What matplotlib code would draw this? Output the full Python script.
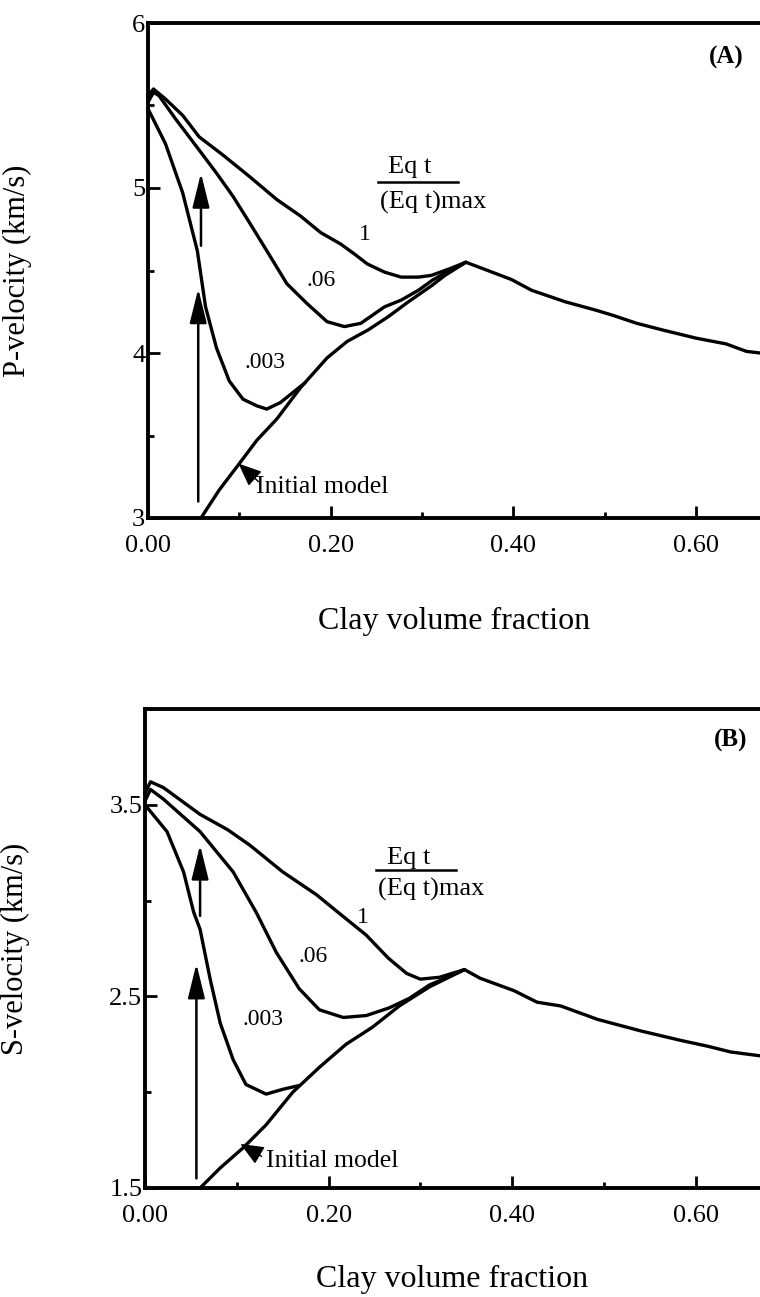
import matplotlib
matplotlib.use("Agg")
import matplotlib.pyplot as plt
from matplotlib.ticker import FormatStrFormatter, FixedLocator

plt.rcParams['font.family'] = ['Liberation Serif', 'DejaVu Serif']

# ---------------- (A) P-velocity ----------------
p_init_x = [0.058, 0.078, 0.100, 0.119, 0.141, 0.167, 0.196, 0.218, 0.241, 0.263,
            0.285, 0.311, 0.325, 0.348, 0.372, 0.398, 0.420, 0.457, 0.490, 0.508,
            0.535, 0.563, 0.600, 0.633, 0.655, 0.670]
p_init_y = [3.00, 3.17, 3.33, 3.47, 3.60, 3.79, 3.97, 4.07, 4.14, 4.22,
            4.31, 4.41, 4.47, 4.55, 4.50, 4.445, 4.38, 4.31, 4.26, 4.23,
            4.18, 4.14, 4.09, 4.055, 4.01, 4.00]

p_003_x = [0.000, 0.019, 0.038, 0.054, 0.063, 0.075, 0.089, 0.104, 0.119, 0.130,
           0.145, 0.163, 0.172]
p_003_y = [5.48, 5.27, 4.97, 4.62, 4.28, 4.03, 3.83, 3.72, 3.68, 3.66,
           3.70, 3.78, 3.82]

p_06_x = [0.000, 0.006, 0.012, 0.030, 0.056, 0.075, 0.093, 0.110, 0.130, 0.152,
          0.174, 0.196, 0.215, 0.233, 0.259, 0.277, 0.296, 0.311, 0.330, 0.348]
p_06_y = [5.52, 5.58, 5.56, 5.42, 5.23, 5.09, 4.95, 4.80, 4.62, 4.42,
          4.30, 4.19, 4.16, 4.18, 4.28, 4.32, 4.38, 4.44, 4.50, 4.55]

p_1_x = [0.000, 0.006, 0.019, 0.038, 0.056, 0.082, 0.111, 0.141, 0.167, 0.189,
         0.211, 0.226, 0.240, 0.259, 0.277, 0.296, 0.310, 0.330, 0.348]
p_1_y = [5.56, 5.60, 5.54, 5.44, 5.31, 5.20, 5.07, 4.93, 4.83, 4.73,
         4.66, 4.60, 4.54, 4.49, 4.46, 4.46, 4.47, 4.51, 4.55]

p_arrow_x = [0.058, 0.055]
p_arrow_y0 = [4.65, 3.10]
p_arrow_y1 = [5.09, 4.39]

# ---------------- (B) S-velocity ----------------
s_init_x = [0.060, 0.082, 0.107, 0.132, 0.161, 0.190, 0.219, 0.248, 0.277, 0.310,
            0.348, 0.365, 0.402, 0.427, 0.453, 0.493, 0.540, 0.584, 0.613, 0.638,
            0.670]
s_init_y = [1.50, 1.605, 1.71, 1.83, 2.00, 2.13, 2.25, 2.34, 2.45, 2.55,
            2.64, 2.595, 2.53, 2.47, 2.45, 2.38, 2.32, 2.27, 2.24, 2.21,
            2.19]

s_003_x = [0.000, 0.024, 0.042, 0.053, 0.060, 0.071, 0.082, 0.096, 0.110, 0.132,
           0.150, 0.168]
s_003_y = [3.50, 3.36, 3.15, 2.94, 2.85, 2.59, 2.36, 2.17, 2.04, 1.99,
           2.015, 2.035]

s_06_x = [0.000, 0.006, 0.020, 0.060, 0.096, 0.121, 0.143, 0.168, 0.190, 0.216,
          0.241, 0.266, 0.288, 0.310, 0.330, 0.348]
s_06_y = [3.52, 3.58, 3.53, 3.36, 3.15, 2.94, 2.73, 2.54, 2.43, 2.39,
          2.40, 2.44, 2.49, 2.56, 2.60, 2.64]

s_1_x = [0.000, 0.006, 0.020, 0.060, 0.090, 0.114, 0.150, 0.187, 0.210, 0.241,
         0.265, 0.285, 0.300, 0.321, 0.348]
s_1_y = [3.56, 3.62, 3.59, 3.45, 3.37, 3.29, 3.15, 3.03, 2.94, 2.82,
         2.70, 2.62, 2.59, 2.60, 2.64]

s_arrow_x = [0.060, 0.056]
s_arrow_y0 = [2.92, 1.55]
s_arrow_y1 = [3.29, 2.67]

curve_labels = ['1', '.06', '.003']
p_label_xy = [(0.237, 4.72), (0.189, 4.44), (0.128, 3.94)]
s_label_xy = [(0.237, 2.91), (0.183, 2.71), (0.129, 2.38)]

x_ticks = [0.0, 0.2, 0.4, 0.6]
x_minor = [0.1, 0.3, 0.5]

LW = 2.4
SPINE_W = 2.8


def style_axes(ax, ylim, yticks, yminor, ylabel, ylabel_x, xlabel_y):
    """Box style of the scanned figure: thick spines, inward ticks."""
    ax.set_xlim(0, 0.67)
    ax.set_ylim(*ylim)
    ax.spines['right'].set_visible(False)
    for s in ['left', 'top', 'bottom']:
        ax.spines[s].set_linewidth(SPINE_W)
    ax.xaxis.set_major_locator(FixedLocator(x_ticks))
    ax.xaxis.set_minor_locator(FixedLocator(x_minor))
    ax.xaxis.set_major_formatter(FormatStrFormatter('%.2f'))
    ax.yaxis.set_major_locator(FixedLocator(yticks))
    ax.yaxis.set_minor_locator(FixedLocator(yminor))
    ax.tick_params(which='both', direction='in', top=False, right=False, width=2.0)
    ax.tick_params(which='major', length=8.5)
    ax.tick_params(which='minor', length=4.5)
    ax.tick_params(axis='x', which='major', labelsize=19, pad=12)
    ax.tick_params(axis='y', which='major', labelsize=19, pad=2)
    ax.set_ylabel(ylabel, fontsize=22)
    ax.yaxis.set_label_coords(ylabel_x, 0.5)
    ax.set_xlabel('Clay volume fraction', fontsize=23)
    ax.xaxis.set_label_coords(0.5, xlabel_y)


def draw_panel(ax, curves, arrows, label_xy, init_text, init_tip, init_tail,
               frac_y, tag, tag_xy):
    for xs, ys in curves:
        ax.plot(xs, ys, color='black', lw=LW, solid_joinstyle='round',
                solid_capstyle='round', clip_on=False)

    ax_x, y0s, y1s = arrows
    for x, y0, y1 in zip(ax_x, y0s, y1s):
        ax.annotate('', xy=(x, y1), xytext=(x, y0),
                    arrowprops=dict(arrowstyle='-|>,head_length=1.05,head_width=0.26',
                                    color='black', lw=1.8, shrinkA=0, shrinkB=0,
                                    mutation_scale=20))

    for lab, (x, y) in zip(curve_labels, label_xy):
        ax.text(x, y, lab, fontsize=17, ha='center', va='center')

    # "Initial model" pointer: arrow head only
    ax.annotate('', xy=init_tip, xytext=init_tail,
                arrowprops=dict(arrowstyle='-|>,head_length=0.9,head_width=0.38',
                                color='black', lw=1.0, shrinkA=0, shrinkB=0,
                                mutation_scale=16))
    ax.text(init_text[0], init_text[1], 'Initial model', fontsize=18.5,
            ha='left', va='center')

    # Eq t / (Eq t)max
    ytop, ybar, ybot = frac_y
    ax.text(0.287, ytop, 'Eq t', fontsize=19, ha='center', va='center')
    ax.plot([0.252, 0.339], [ybar, ybar], color='black', lw=1.8)
    ax.text(0.254, ybot, '(Eq t)max', fontsize=19, ha='left', va='center')

    ax.text(tag_xy[0], tag_xy[1], tag, fontsize=18, fontweight='bold',
            ha='center', va='center')


fig = plt.figure(figsize=(7.6, 12.97), dpi=100)

ax1 = fig.add_axes([148 / 760, 1 - 518 / 1297, 1 - 148 / 760, (518 - 23) / 1297])
style_axes(ax1, (3, 6), [3, 4, 5, 6], [3.5, 4.5, 5.5], 'P-velocity (km/s)',
           -0.19, -0.18)
ax1.yaxis.set_major_formatter(FormatStrFormatter('%d'))
draw_panel(ax1,
           [(p_init_x, p_init_y), (p_003_x, p_003_y), (p_06_x, p_06_y), (p_1_x, p_1_y)],
           (p_arrow_x, p_arrow_y0, p_arrow_y1), p_label_xy,
           (0.118, 3.19), (0.099, 3.33), (0.121, 3.22),
           (5.13, 5.035, 4.91), '(A)', (0.633, 5.79))

ax2 = fig.add_axes([145 / 760, 1 - 1188 / 1297, 1 - 145 / 760, (1188 - 709) / 1297])
style_axes(ax2, (1.5, 4.0), [1.5, 2.5, 3.5], [2.0, 3.0], 'S-velocity (km/s)',
           -0.187, -0.16)
ax2.yaxis.set_major_formatter(FormatStrFormatter('%.1f'))
draw_panel(ax2,
           [(s_init_x, s_init_y), (s_003_x, s_003_y), (s_06_x, s_06_y), (s_1_x, s_1_y)],
           (s_arrow_x, s_arrow_y0, s_arrow_y1), s_label_xy,
           (0.132, 1.64), (0.104, 1.73), (0.127, 1.665),
           (3.22, 3.16, 3.06), '(B)', (0.638, 3.835))

fig.savefig('out.png', dpi=100)
